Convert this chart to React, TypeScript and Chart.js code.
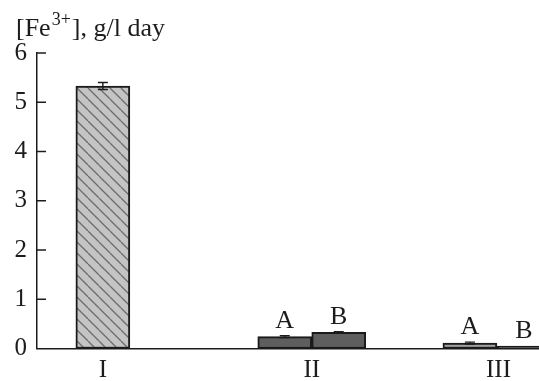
import React, { useEffect, useRef } from "react";
import { Chart, registerables } from "chart.js";

Chart.register(...registerables);

// Groups along the x axis and where each group sits (in bar-width units)
const groupNames = ["I", "II", "III"];
const groupCenters = [1.22, 5.09, 8.55];

// Individual bars
const barGroup = [0, 1, 1, 2, 2];
const barOffset = [0, -0.5, 0.5, -0.53, 0.47];
const barLetters = ["", "A", "B", "A", "B"];
const barValues = [5.33, 0.24, 0.33, 0.11, 0.05];
const barErrors = [0.07, 0.02, 0.01, 0.02, 0];

// Y axis
const yMin = 0;
const yMax = 6;
const yStep = 1;
const xMax = 9.3;

const SERIF = "'Liberation Serif', 'Times New Roman', serif";
const INK = "#1c1c1c";

function makeHatch(): CanvasPattern | string {
  const s = 11;
  const c = document.createElement("canvas");
  c.width = s;
  c.height = s;
  const g = c.getContext("2d");
  if (!g) return "#c3c3c3";
  g.fillStyle = "#c4c4c4";
  g.fillRect(0, 0, s, s);
  g.strokeStyle = "#6c6c6c";
  g.lineWidth = 1.3;
  for (const k of [-1, 0, 1]) {
    g.beginPath();
    g.moveTo(k * s, 0);
    g.lineTo(k * s + s, s);
    g.stroke();
  }
  return g.createPattern(c, "repeat") || "#c3c3c3";
}

const decorations = {
  id: "decorations",
  afterDatasetsDraw(chart: any) {
    const { ctx, chartArea, scales } = chart;
    const y = scales.y;
    const meta = chart.getDatasetMeta(0);
    ctx.save();
    // error bars
    ctx.strokeStyle = INK;
    ctx.lineWidth = 1.4;
    meta.data.forEach((el: any, i: number) => {
      const e = barErrors[i];
      if (!e) return;
      const hi = y.getPixelForValue(barValues[i] + e);
      const lo = y.getPixelForValue(barValues[i] - e);
      ctx.beginPath();
      ctx.moveTo(el.x, hi);
      ctx.lineTo(el.x, lo);
      ctx.moveTo(el.x - 5, hi);
      ctx.lineTo(el.x + 5, hi);
      ctx.moveTo(el.x - 5, lo);
      ctx.lineTo(el.x + 5, lo);
      ctx.stroke();
    });
    // letters above bars
    ctx.fillStyle = INK;
    ctx.font = `26px ${SERIF}`;
    ctx.textAlign = "center";
    ctx.textBaseline = "alphabetic";
    meta.data.forEach((el: any, i: number) => {
      if (!barLetters[i]) return;
      const top = y.getPixelForValue(barValues[i] + barErrors[i]);
      ctx.fillText(barLetters[i], el.x, top - 8);
    });
    // inward tick marks on the y axis
    ctx.strokeStyle = INK;
    ctx.lineWidth = 1.5;
    y.ticks.forEach((t: any) => {
      if (t.value === yMin) return;
      const py = y.getPixelForValue(t.value);
      ctx.beginPath();
      ctx.moveTo(chartArea.left, py);
      ctx.lineTo(chartArea.left + 9, py);
      ctx.stroke();
    });
    // axis title with superscript
    let x = 16;
    const base = 36;
    ctx.textAlign = "left";
    ctx.font = `26px ${SERIF}`;
    ctx.fillText("[Fe", x, base);
    x += ctx.measureText("[Fe").width + 1;
    ctx.font = `18px ${SERIF}`;
    ctx.fillText("3+", x, base - 11);
    x += ctx.measureText("3+").width + 1;
    ctx.font = `26px ${SERIF}`;
    ctx.fillText("], g/l day", x, base);
    ctx.restore();
  },
};

export default function App() {
  const ref = useRef<HTMLCanvasElement | null>(null);

  useEffect(() => {
    if (!ref.current) return;
    const hatch = makeHatch();
    const fills = [hatch, "#5e5e5e", "#5e5e5e", "#a0a0a0", "#1a1a1a"];
    const points = barValues.map((v, i) => ({
      x: groupCenters[barGroup[i]] + barOffset[i],
      y: v,
    }));
    const chart = new Chart(ref.current, {
      type: "bar",
      data: {
        datasets: [
          {
            data: points as any,
            backgroundColor: fills as any,
            borderColor: "#1a1a1a",
            borderWidth: 2,
            borderSkipped: false,
            barThickness: 54,
          },
        ],
      },
      options: {
        responsive: false,
        animation: false,
        layout: { padding: { top: 53, right: 0, left: 0, bottom: 0 } },
        plugins: {
          legend: { display: false },
          tooltip: { enabled: false },
        },
        scales: {
          x: {
            type: "linear",
            offset: false,
            min: 0,
            max: xMax,
            grid: { display: false, drawTicks: false, offset: false },
            border: { display: true, color: INK, width: 1.5 },
            afterBuildTicks: (scale: any) => {
              scale.ticks = groupCenters.map((v) => ({ value: v }));
            },
            afterFit: (scale: any) => {
              scale.height = 32.5;
            },
            ticks: {
              autoSkip: false,
              maxRotation: 0,
              padding: 7,
              color: INK,
              font: { family: SERIF, size: 25 },
              callback: (_v: any, i: number) => groupNames[i],
            },
          },
          y: {
            min: yMin,
            max: yMax,
            grid: { display: false, drawTicks: false },
            border: { display: true, color: INK, width: 1.5 },
            afterFit: (scale: any) => {
              scale.width = 37;
            },
            ticks: {
              stepSize: yStep,
              padding: 10,
              color: INK,
              font: { family: SERIF, size: 25 },
            },
          },
        },
      },
      plugins: [decorations],
    });
    return () => chart.destroy();
  }, []);

  return (
    <div style={{ position: "fixed", left: 0, top: 0, width: 539, height: 381, background: "#fff" }}>
      <canvas ref={ref} width={539} height={381} />
    </div>
  );
}
